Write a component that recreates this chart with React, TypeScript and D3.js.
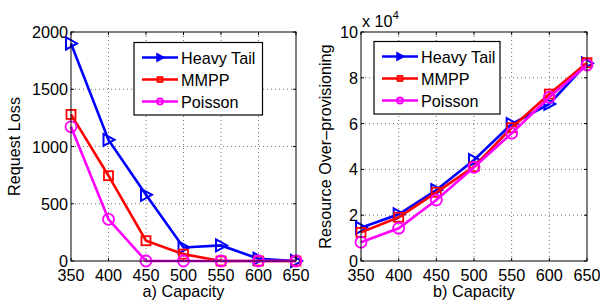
import { useEffect, useRef } from "react";
import * as d3 from "d3";

const capacity = [350, 400, 450, 500, 550, 600, 650];
const seriesNames = ["Heavy Tail", "MMPP", "Poisson"];
const seriesColors = ["#0000ff", "#ff0000", "#ff00ff"];

// panel a) request loss
const lossHeavy = [1900, 1058, 578, 118, 136, 20, 0];
const lossMmpp = [1280, 745, 177, 60, 0, 0, 0];
const lossPoisson = [1172, 364, 0, 0, 0, 0, 0];

// panel b) over-provisioning (x 10^4)
const overHeavy = [1.45, 2.04, 3.1, 4.41, 5.98, 6.86, 8.63];
const overMmpp = [1.25, 1.91, 3.0, 4.12, 5.82, 7.29, 8.66];
const overPoisson = [0.82, 1.43, 2.66, 4.09, 5.58, 7.15, 8.56];

const lossTicks = [0, 500, 1000, 1500, 2000];
const overTicks = [0, 2, 4, 6, 8, 10];

const FONT = "'Liberation Sans', Arial, sans-serif";
const FS = 16.2;

const App = () => {
  const svgRef = useRef<SVGSVGElement>(null);

  useEffect(() => {
    if (!svgRef.current) return;
    const svg = d3.select(svgRef.current);
    svg.selectAll("*").remove();

    const panels = [
      {
        left: 71, right: 296, data: [lossHeavy, lossMmpp, lossPoisson], max: 2000, ticks: lossTicks,
        title: "Request Loss", titleX: 20, xTitle: "a) Capacity", legend: [134, 42.5, 128.5, 72.5], exp: false,
      },
      {
        left: 361, right: 587, data: [overHeavy, overMmpp, overPoisson], max: 10, ticks: overTicks,
        title: "Resource Over\u2013provisioning", titleX: 331, xTitle: "b) Capacity", legend: [374, 41.5, 126, 72.5], exp: true,
      },
    ];
    const top = 32;
    const bottom = 261;

    panels.forEach((p) => {
      const x = d3.scaleLinear().domain([350, 650]).range([p.left, p.right]);
      const y = d3.scaleLinear().domain([0, p.max]).range([bottom, top]);
      const g = svg.append("g");

      // grid
      capacity.slice(1, -1).forEach((c) => {
        g.append("line").attr("x1", x(c)).attr("x2", x(c)).attr("y1", top).attr("y2", bottom)
          .attr("stroke", "#333").attr("stroke-width", 0.7).attr("stroke-dasharray", "1,3");
      });
      p.ticks.slice(1, -1).forEach((t) => {
        g.append("line").attr("x1", p.left).attr("x2", p.right).attr("y1", y(t)).attr("y2", y(t))
          .attr("stroke", "#333").attr("stroke-width", 0.7).attr("stroke-dasharray", "1,3");
      });

      // tick marks inward
      capacity.forEach((c) => {
        g.append("line").attr("x1", x(c)).attr("x2", x(c)).attr("y1", bottom).attr("y2", bottom - 3).attr("stroke", "#000");
        g.append("line").attr("x1", x(c)).attr("x2", x(c)).attr("y1", top).attr("y2", top + 3).attr("stroke", "#000");
        g.append("text").attr("x", x(c)).attr("y", 281).attr("text-anchor", "middle")
          .attr("font-family", FONT).attr("font-size", FS).text(c);
      });
      p.ticks.forEach((t) => {
        g.append("line").attr("x1", p.left).attr("x2", p.left + 3).attr("y1", y(t)).attr("y2", y(t)).attr("stroke", "#000");
        g.append("line").attr("x1", p.right).attr("x2", p.right - 3).attr("y1", y(t)).attr("y2", y(t)).attr("stroke", "#000");
        g.append("text").attr("x", p.left - 3).attr("y", y(t) + 6).attr("text-anchor", "end")
          .attr("font-family", FONT).attr("font-size", FS).text(t);
      });

      const line = d3.line<number>().x((_, i) => x(capacity[i])).y((d) => y(d));

      const drawMarker = (sel: any, k: number, cx: number, cy: number, s: number) => {
        const col = seriesColors[k];
        if (k === 0) {
          sel.append("path").attr("d", `M${cx - 5 * s},${cy - 6 * s}L${cx + 6 * s},${cy}L${cx - 5 * s},${cy + 6 * s}Z`)
            .attr("fill", s < 1 ? col : "none").attr("stroke", col).attr("stroke-width", 2);
        } else if (k === 1) {
          sel.append("rect").attr("x", cx - 4.5 * s).attr("y", cy - 4.5 * s).attr("width", 9 * s).attr("height", 9 * s)
            .attr("fill", "none").attr("stroke", col).attr("stroke-width", 1.8);
        } else {
          sel.append("circle").attr("cx", cx).attr("cy", cy).attr("r", 5.5 * s)
            .attr("fill", "none").attr("stroke", col).attr("stroke-width", 1.8);
        }
      };

      p.data.forEach((vals, k) => {
        const sg = g.append("g");
        sg.append("path").attr("d", line(vals) || "").attr("fill", "none")
          .attr("stroke", seriesColors[k]).attr("stroke-width", 2.6);
        vals.forEach((v, i) => drawMarker(sg, k, x(capacity[i]), y(v), 1));
      });

      // box
      g.append("rect").attr("x", p.left).attr("y", top).attr("width", p.right - p.left).attr("height", bottom - top)
        .attr("fill", "none").attr("stroke", "#000").attr("stroke-width", 1);

      // legend
      const [lx, ly, lw, lh] = p.legend;
      g.append("rect").attr("x", lx).attr("y", ly).attr("width", lw).attr("height", lh)
        .attr("fill", "#fff").attr("stroke", "#000").attr("stroke-width", 1.2);
      seriesNames.forEach((name, k) => {
        const yy = ly + 15 + k * 22;
        g.append("line").attr("x1", lx + 8).attr("x2", lx + 44).attr("y1", yy).attr("y2", yy)
          .attr("stroke", seriesColors[k]).attr("stroke-width", 2.6);
        drawMarker(g, k, lx + 26, yy, 0.55);
        g.append("text").attr("x", lx + 47).attr("y", yy + 6).attr("font-family", FONT)
          .attr("font-size", FS).text(name);
      });

      // titles
      g.append("text").attr("x", (p.left + p.right) / 2).attr("y", 297).attr("text-anchor", "middle")
        .attr("font-family", FONT).attr("font-size", FS).text(p.xTitle);
      g.append("text").attr("transform", `translate(${p.titleX},${(top + bottom) / 2}) rotate(-90)`)
        .attr("text-anchor", "middle").attr("font-family", FONT).attr("font-size", FS).text(p.title);

      if (p.exp) {
        const t = g.append("text").attr("x", p.left + 1).attr("y", 26.5).attr("font-family", FONT).attr("font-size", FS);
        t.append("tspan").text("x 10");
        t.append("tspan").attr("dy", -8).attr("font-size", 11.5).text("4");
      }
    });
  }, []);

  return <svg ref={svgRef} width={600} height={303} style={{ position: "absolute", left: 0, top: 0, background: "#fff" }} />;
};

export default App;
